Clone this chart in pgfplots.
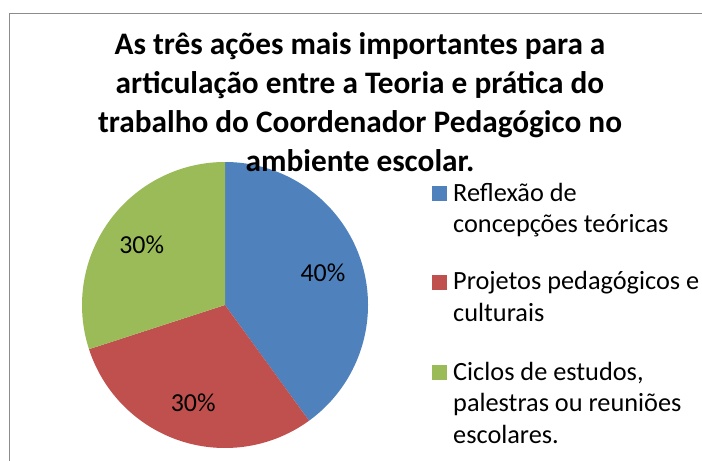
\documentclass[border=0pt]{standalone}
\usepackage{pgfplots}
\pgfplotsset{compat=1.18}
\usepackage{pgfplotstable}
\usepackage{fontspec}
\setmainfont{Carlito}

\definecolor{pieblue}{HTML}{4F81BD}
\definecolor{piered}{HTML}{C0504D}
\definecolor{piegreen}{HTML}{9BBB59}

\pgfplotstableread{
value color
40 pieblue
30 piered
30 piegreen
}\piedata

\newcommand\labelfont{\fontsize{26}{31}\selectfont}
\newcommand\legendfont{\fontsize{26.4}{31.5}\selectfont}
\newcommand\titlefont{\fontsize{31.4}{38.8}\selectfont\bfseries}

\begin{document}
\begin{tikzpicture}[x=1bp,y=1bp]
\useasboundingbox (0,0) rectangle (702,-461);
\draw[line width=1.6bp, color=black!45] (9.5,-520) -- (9.5,-13.5) -- (760,-13.5);

\begin{axis}[at={(225bp,-305bp)}, anchor=center, scale only axis,
  width=286bp, height=286bp, xmin=-1, xmax=1, ymin=-1, ymax=1,
  hide axis, clip=false]
\def\cumul{0}
\pgfplotsforeachungrouped \i in {0,1,2} {
  \pgfplotstablegetelem{\i}{value}\of\piedata \let\v\pgfplotsretval
  \pgfplotstablegetelem{\i}{color}\of\piedata \let\c\pgfplotsretval
  \pgfmathsetmacro\sa{90-3.6*\cumul}
  \pgfmathsetmacro\ea{90-3.6*(\cumul+\v)}
  \pgfmathsetmacro\ma{(\sa+\ea)/2}
  \pgfmathsetmacro\xs{cos(\sa)}
  \pgfmathsetmacro\ys{sin(\sa)}
  \pgfmathsetmacro\lx{0.72*cos(\ma)}
  \pgfmathsetmacro\ly{0.72*sin(\ma)}
  \edef\tmp{\noexpand\fill[\c] (axis cs:0,0) -- (axis cs:\xs,\ys) arc[start angle=\sa, end angle=\ea, radius=143bp] -- cycle;
    \noexpand\node[font=\noexpand\labelfont, text=black] at (axis cs:\lx,\ly) {\v\noexpand\%};}
  \tmp
  \pgfmathsetmacro\cumul{\cumul+\v}
}
\end{axis}

% title
\node[anchor=base, font=\titlefont] at (360,-55) {As três ações mais importantes para a};
\node[anchor=base, font=\titlefont] at (360,-94) {articulação entre a Teoria e prática do};
\node[anchor=base, font=\titlefont] at (360,-133) {trabalho do Coordenador Pedagógico no};
\node[anchor=base, font=\titlefont] at (360,-171.5) {ambiente escolar.};

% legend
\fill[pieblue] (432,-201.5) rectangle (447,-186.5);
\fill[piered] (432,-290) rectangle (447,-275);
\fill[piegreen] (432,-380) rectangle (447,-365);
\begin{scope}[every node/.style={anchor=base west, inner sep=0pt, font=\legendfont}]
\node at (453,-201.5) {Reflexão de};
\node at (453,-233) {concepções teóricas};
\node at (453,-290) {Projetos pedagógicos e};
\node at (453,-321.5) {culturais};
\node at (453,-380) {Ciclos de estudos,};
\node at (453,-411.5) {palestras ou reuniões};
\node at (453,-443) {escolares.};
\end{scope}
\end{tikzpicture}
\end{document}
